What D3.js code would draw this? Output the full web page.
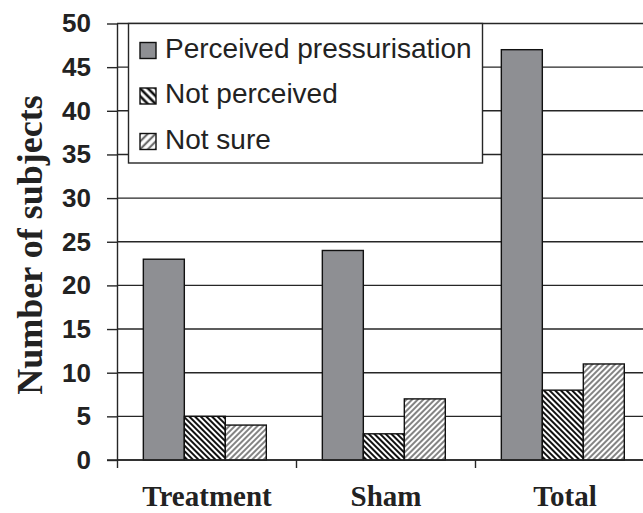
<!DOCTYPE html>
<html>
<head>
<meta charset="utf-8">
<script src="https://cdn.jsdelivr.net/npm/d3@7"></script>
<style>
  html, body { margin: 0; padding: 0; background: #fff; }
  svg { display: block; }
</style>
</head>
<body>
<svg id="chart" width="643" height="513"></svg>
<script>
// Subject responses per group
const categories = ["Treatment", "Sham", "Total"];
const seriesNames = ["Perceived pressurisation", "Not perceived", "Not sure"];
const perceived = [23, 24, 47];
const notPerceived = [5, 3, 8];
const notSure = [4, 7, 11];
const yTicks = [0, 5, 10, 15, 20, 25, 30, 35, 40, 45, 50];

const seriesValues = [perceived, notPerceived, notSure];
const rows = categories.map((c, i) => ({
  category: c,
  values: seriesNames.map((s, j) => ({ series: s, value: seriesValues[j][i] }))
}));

const svg = d3.select("#chart");
const W = 643, H = 513;
const plotLeft = 117, plotRight = 654, plotTop = 23.5, plotBottom = 460;
const ink = "#262626";

// Fill patterns: grey solid, dense black backward hatch, lighter forward hatch
const defs = svg.append("defs");
function hatch(id, size, angle, color, width) {
  const p = defs.append("pattern")
    .attr("id", id)
    .attr("patternUnits", "userSpaceOnUse")
    .attr("width", size).attr("height", size)
    .attr("patternTransform", `rotate(${angle})`);
  p.append("rect").attr("width", size).attr("height", size).attr("fill", "#fff");
  p.append("line")
    .attr("x1", size / 2).attr("y1", 0).attr("x2", size / 2).attr("y2", size)
    .attr("stroke", color).attr("stroke-width", width);
}
hatch("hatch-np", 4, -45, "#111", 2);
hatch("hatch-ns", 4, 45, "#6e6e6e", 1.7);
hatch("hatch-np-key", 5.5, -45, "#111", 2.6);
hatch("hatch-ns-key", 5.5, 45, "#6e6e6e", 2.2);

const barFill = {
  "Perceived pressurisation": "#8e8f93",
  "Not perceived": "url(#hatch-np)",
  "Not sure": "url(#hatch-ns)"
};
const keyFill = {
  "Perceived pressurisation": "#8e8f93",
  "Not perceived": "url(#hatch-np-key)",
  "Not sure": "url(#hatch-ns-key)"
};

const pad = 0.313;
const x0 = d3.scaleBand().domain(categories).range([plotLeft, plotRight])
  .paddingInner(pad).paddingOuter(pad / 2).align(0.47);
const x1 = d3.scaleBand().domain(seriesNames).range([0, x0.bandwidth()]);
const y = d3.scaleLinear().domain([0, 50]).range([plotBottom, plotTop]);
const xEdge = d3.scaleLinear().domain([0, categories.length]).range([plotLeft, plotRight]);

// Horizontal gridlines across the plot
svg.append("g")
  .selectAll("line")
  .data(yTicks)
  .join("line")
  .attr("x1", plotLeft).attr("x2", W)
  .attr("y1", d => y(d)).attr("y2", d => y(d))
  .attr("stroke", ink).attr("stroke-width", 1.4);

// Bars
const groups = svg.append("g")
  .selectAll("g")
  .data(rows)
  .join("g")
  .attr("transform", d => `translate(${x0(d.category)},0)`);
groups.selectAll("rect")
  .data(d => d.values)
  .join("rect")
  .attr("x", d => x1(d.series))
  .attr("y", d => y(d.value))
  .attr("width", x1.bandwidth())
  .attr("height", d => y(0) - y(d.value))
  .attr("fill", d => barFill[d.series])
  .attr("stroke", "#111")
  .attr("stroke-width", 1.4);

// Y axis
const yAxis = svg.append("g")
  .attr("transform", `translate(${plotLeft},0)`)
  .call(d3.axisLeft(y).tickValues(yTicks).tickSize(10).tickPadding(16).tickSizeOuter(0));
yAxis.select(".domain").attr("stroke", ink).attr("stroke-width", 1.4);
yAxis.selectAll(".tick line").attr("stroke", ink).attr("stroke-width", 1.4);
yAxis.selectAll(".tick text")
  .attr("fill", "#222")
  .style("font-family", "'Liberation Sans', Arial, sans-serif")
  .style("font-weight", "bold")
  .style("font-size", "26px");

// X axis: baseline with ticks at the category boundaries
const xTickAxis = svg.append("g")
  .attr("transform", `translate(0,${plotBottom})`)
  .call(d3.axisBottom(xEdge).tickValues(d3.range(categories.length + 1))
    .tickSize(8).tickFormat(() => "").tickSizeOuter(0));
xTickAxis.select(".domain").remove();
xTickAxis.selectAll(".tick line").attr("stroke", ink).attr("stroke-width", 1.4);
svg.append("line")
  .attr("x1", plotLeft - 10).attr("x2", W)
  .attr("y1", plotBottom).attr("y2", plotBottom)
  .attr("stroke", ink).attr("stroke-width", 1.4);

// Category labels, centred on each group
const xLabels = svg.append("g")
  .attr("transform", `translate(0,${plotBottom})`)
  .call(d3.axisBottom(xEdge.copy().domain([-0.5, categories.length - 0.5]))
    .tickValues(d3.range(categories.length))
    .tickFormat(i => categories[i])
    .tickSize(0).tickPadding(0));
xLabels.select(".domain").remove();
xLabels.selectAll(".tick text")
  .attr("y", 46).attr("dy", 0)
  .attr("fill", "#222")
  .style("font-family", "'Liberation Serif', 'Times New Roman', serif")
  .style("font-weight", "bold")
  .style("font-size", "29px");

// Y axis title
svg.append("text")
  .attr("transform", `translate(42,245) rotate(-90)`)
  .attr("text-anchor", "middle")
  .attr("fill", "#222")
  .style("font-family", "'Liberation Serif', 'Times New Roman', serif")
  .style("font-weight", "bold")
  .style("font-size", "36px")
  .text("Number of subjects");

// Legend
const legend = svg.append("g");
legend.append("rect")
  .attr("x", 128.5).attr("y", plotTop)
  .attr("width", 354).attr("height", 139.5)
  .attr("fill", "#fff")
  .attr("stroke", ink).attr("stroke-width", 1.4);
const items = legend.selectAll("g.item")
  .data(seriesNames)
  .join("g")
  .attr("class", "item")
  .attr("transform", (d, i) => `translate(0,${i * 45.5})`);
items.append("rect")
  .attr("x", 140).attr("y", 42.5)
  .attr("width", 16).attr("height", 16)
  .attr("fill", d => keyFill[d])
  .attr("stroke", "#111").attr("stroke-width", 1.4);
items.append("text")
  .attr("x", 165).attr("y", 57.5)
  .attr("fill", "#222")
  .style("font-family", "'Liberation Sans', Arial, sans-serif")
  .style("font-size", "28px")
  .text(d => d);
</script>
</body>
</html>
